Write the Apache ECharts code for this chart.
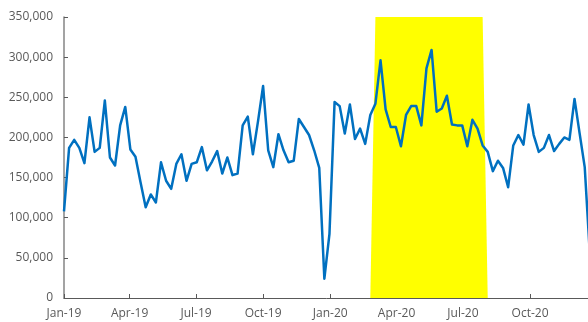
<!DOCTYPE html>
<html>
<head>
<meta charset="utf-8">
<script src="https://cdn.jsdelivr.net/npm/echarts@6/dist/echarts.min.js"></script>
<style>
  html, body { margin: 0; padding: 0; background: #ffffff; }
  #chart { width: 588px; height: 322px; }
</style>
</head>
<body>
<div id="chart"></div>
<script>
// Weekly totals, one value per week starting on the first date below
const firstWeek = '2019-01-01';
const weeklyValues = [
  108000, 187000, 197000, 187000, 168000, 225000, 182000, 187000, 246000, 175000,
  165000, 215000, 238000, 185000, 176000, 144000, 113000, 129000, 119000, 169000,
  146000, 136000, 167000, 179000, 146000, 167000, 169000, 188000, 159000, 170000,
  183000, 155000, 175000, 153000, 155000, 215000, 226000, 179000, 220000, 264000,
  184000, 163000, 204000, 184000, 169000, 171000, 223000, 213000, 203000, 184000,
  162000, 24000, 80000, 244000, 239000, 205000, 241000, 198000, 211000, 192000,
  228000, 242000, 296000, 235000, 213000, 213000, 189000, 228000, 239000, 239000,
  215000, 286000, 309000, 232000, 236000, 252000, 216000, 215000, 215000, 189000,
  222000, 211000, 190000, 182000, 158000, 171000, 162000, 138000, 190000, 203000,
  191000, 241000, 203000, 182000, 187000, 203000, 183000, 192000, 200000, 197000,
  248000, 205000, 163000, 55000
];

// Shaded period (weekly points), filled up to the top of the value axis
const highlightStart = '2020-02-25';
const highlightEnd = '2020-08-04';
const highlightLevel = 350000;

// Axis range and value ticks
const axisStart = '2019-01-01';
const axisEnd = '2020-12-31';
const yMax = 350000;
const yStep = 50000;
const monthNames = ['Jan', 'Feb', 'Mar', 'Apr', 'May', 'Jun', 'Jul', 'Aug', 'Sep', 'Oct', 'Nov', 'Dec'];
const quarterMonths = [0, 3, 6, 9];

const DAY = 86400000;
const toUTC = s => { const p = s.split('-').map(Number); return Date.UTC(p[0], p[1] - 1, p[2]); };
const isoOf = t => new Date(t).toISOString().slice(0, 10);

// One category per calendar day so the axis behaves like a date scale
const t0 = toUTC(axisStart);
const dayCount = Math.round((toUTC(axisEnd) - t0) / DAY) + 1;
const days = [];
for (let i = 0; i < dayCount; i++) days.push(isoOf(t0 + i * DAY));
const dayIndex = s => Math.round((toUTC(s) - t0) / DAY);

const lineData = new Array(dayCount).fill(null);
const bandData = new Array(dayCount).fill(null);
const w0 = dayIndex(firstWeek);
const hs = dayIndex(highlightStart), he = dayIndex(highlightEnd);
weeklyValues.forEach((v, k) => {
  const d = w0 + k * 7;
  if (d >= 0 && d < dayCount) {
    lineData[d] = v;
    if (d >= hs && d <= he) bandData[d] = (d === hs || d === he) ? 0 : highlightLevel;
  }
});

const isQuarterStart = (idx) => {
  const dt = new Date(t0 + idx * DAY);
  return dt.getUTCDate() === 1 && quarterMonths.indexOf(dt.getUTCMonth()) >= 0;
};
const fmtThousands = v => String(v).replace(/\B(?=(\d{3})+(?!\d))/g, ',');

const chart = echarts.init(document.getElementById('chart'), null, { renderer: 'canvas' });
chart.setOption({
  animation: false,
  backgroundColor: '#ffffff',
  textStyle: { fontFamily: 'Open Sans' },
  grid: {
    left: 64, top: 17, width: 532.4, height: 281,
    containLabel: false, outerBoundsMode: 'none'
  },
  xAxis: {
    type: 'category',
    data: days,
    boundaryGap: false,
    axisLine: { show: true, lineStyle: { color: '#595959', width: 1 } },
    axisTick: {
      show: true, inside: true, length: 4,
      interval: (idx) => isQuarterStart(idx),
      lineStyle: { color: '#595959' }
    },
    axisLabel: {
      show: true,
      interval: (idx) => isQuarterStart(idx),
      formatter: (val) => {
        const dt = new Date(toUTC(val));
        return monthNames[dt.getUTCMonth()] + '-' + String(dt.getUTCFullYear()).slice(2);
      },
      color: '#595959', fontSize: 12, margin: 10, fontFamily: 'Open Sans'
    },
    splitLine: { show: false }
  },
  yAxis: {
    type: 'value',
    min: 0, max: yMax, interval: yStep,
    axisLine: { show: true, lineStyle: { color: '#858585', width: 1.5 } },
    axisTick: { show: true, inside: true, length: 4, lineStyle: { color: '#595959' } },
    axisLabel: {
      formatter: v => fmtThousands(v),
      color: '#595959', fontSize: 12, margin: 11, fontFamily: 'Open Sans'
    },
    splitLine: { show: false }
  },
  series: [
    {
      name: 'Highlighted period',
      type: 'line',
      data: bandData,
      connectNulls: true,
      symbol: 'none',
      lineStyle: { width: 0 },
      areaStyle: { color: '#FFFF00', opacity: 1 },
      z: 1,
      silent: true
    },
    {
      name: 'Weekly total',
      type: 'line',
      data: lineData,
      connectNulls: true,
      symbol: 'none',
      lineStyle: { color: '#0070C0', width: 2.5, join: 'round' },
      z: 3
    }
  ]
});
</script>
</body>
</html>
